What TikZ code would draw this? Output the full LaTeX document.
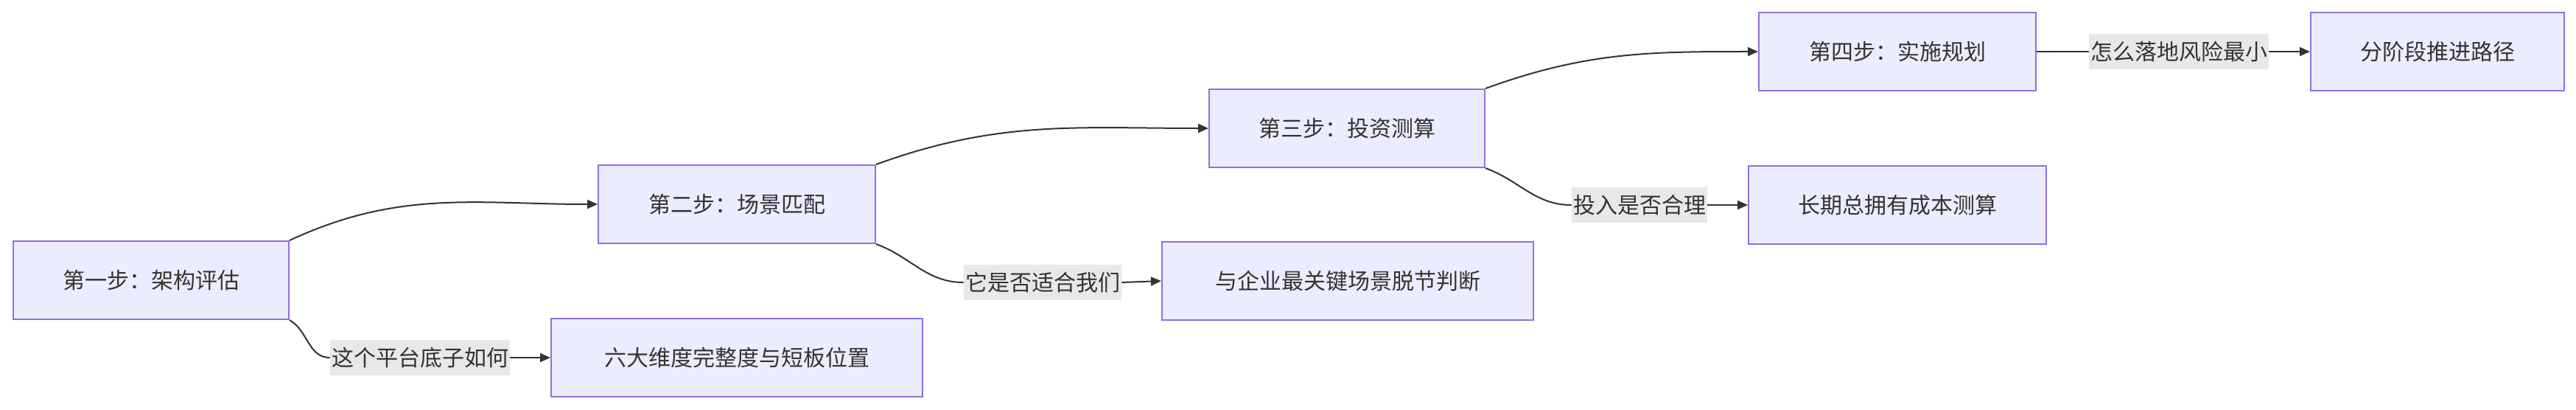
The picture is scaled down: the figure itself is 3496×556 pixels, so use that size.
\documentclass[tikz,border=0pt]{standalone}
\usepackage{fontspec}
\setmainfont{Noto Sans CJK SC}
\usetikzlibrary{arrows.meta}
\definecolor{boxfill}{HTML}{ECECFF}
\definecolor{boxline}{HTML}{9370DB}
\definecolor{lblfill}{HTML}{E8E8E8}
\definecolor{ink}{HTML}{333333}
\tikzset{
	schritt/.style={draw=boxline, fill=boxfill, line width=1pt, minimum height=53pt, inner sep=0pt, font=\fontsize{15pt}{18pt}\selectfont, text=ink},
	lbl/.style={fill=lblfill, inner sep=1pt, minimum height=24pt, font=\fontsize{15pt}{18pt}\selectfont, text=ink},
	edge/.style={draw=ink, line width=1pt},
	arr/.style={edge, -{Triangle[length=7pt, width=6pt]}}
}
\begin{document}
\begin{tikzpicture}[x=0.5pt, y=-0.5pt]
	\useasboundingbox (0,0) rectangle (3496,556);
	% Schritte
	\node[schritt, minimum width=187pt] (eins) at (205,380) {第一步：架构评估};
	\node[schritt, minimum width=188pt] (zwei) at (1000,277) {第二步：场景匹配};
	\node[schritt, minimum width=252pt] (sechs) at (1000,485) {六大维度完整度与短板位置};
	\node[schritt, minimum width=187pt] (drei) at (1828,174) {第三步：投资测算};
	\node[schritt, minimum width=252pt] (szene) at (1829,381) {与企业最关键场景脱节判断};
	\node[schritt, minimum width=188pt] (vier) at (2575,70) {第四步：实施规划};
	\node[schritt, minimum width=202pt] (kosten) at (2575,278) {长期总拥有成本测算};
	\node[schritt, minimum width=172pt] (pfad) at (3308,70) {分阶段推进路径};
	% Kantenbeschriftungen
	\node[lbl] (lbeins) at (570,485) {这个平台底子如何};
	\node[lbl] (lbzwei) at (1415,383) {它是否适合我们};
	\node[lbl] (lbdrei) at (2225,278) {投入是否合理};
	\node[lbl] (lbvier) at (2957,70) {怎么落地风险最小};
	% Kanten
	\draw[arr] (eins.north east) to[out=25, in=180] (zwei.west);
	\draw[edge] (eins.south east) to[out=-30, in=180] (lbeins.west);
	\draw[arr] (lbeins.east) -- (sechs.west);
	\draw[arr] (zwei.north east) to[out=20, in=180] (drei.west);
	\draw[edge] (zwei.south east) to[out=-20, in=180] (lbzwei.west);
	\draw[arr] (lbzwei.east) -- (szene.west);
	\draw[arr] (drei.north east) to[out=20, in=180] (vier.west);
	\draw[edge] (drei.south east) to[out=-20, in=180] (lbdrei.west);
	\draw[arr] (lbdrei.east) -- (kosten.west);
	\draw[edge] (vier.east) -- (lbvier.west);
	\draw[arr] (lbvier.east) -- (pfad.west);
\end{tikzpicture}
\end{document}
